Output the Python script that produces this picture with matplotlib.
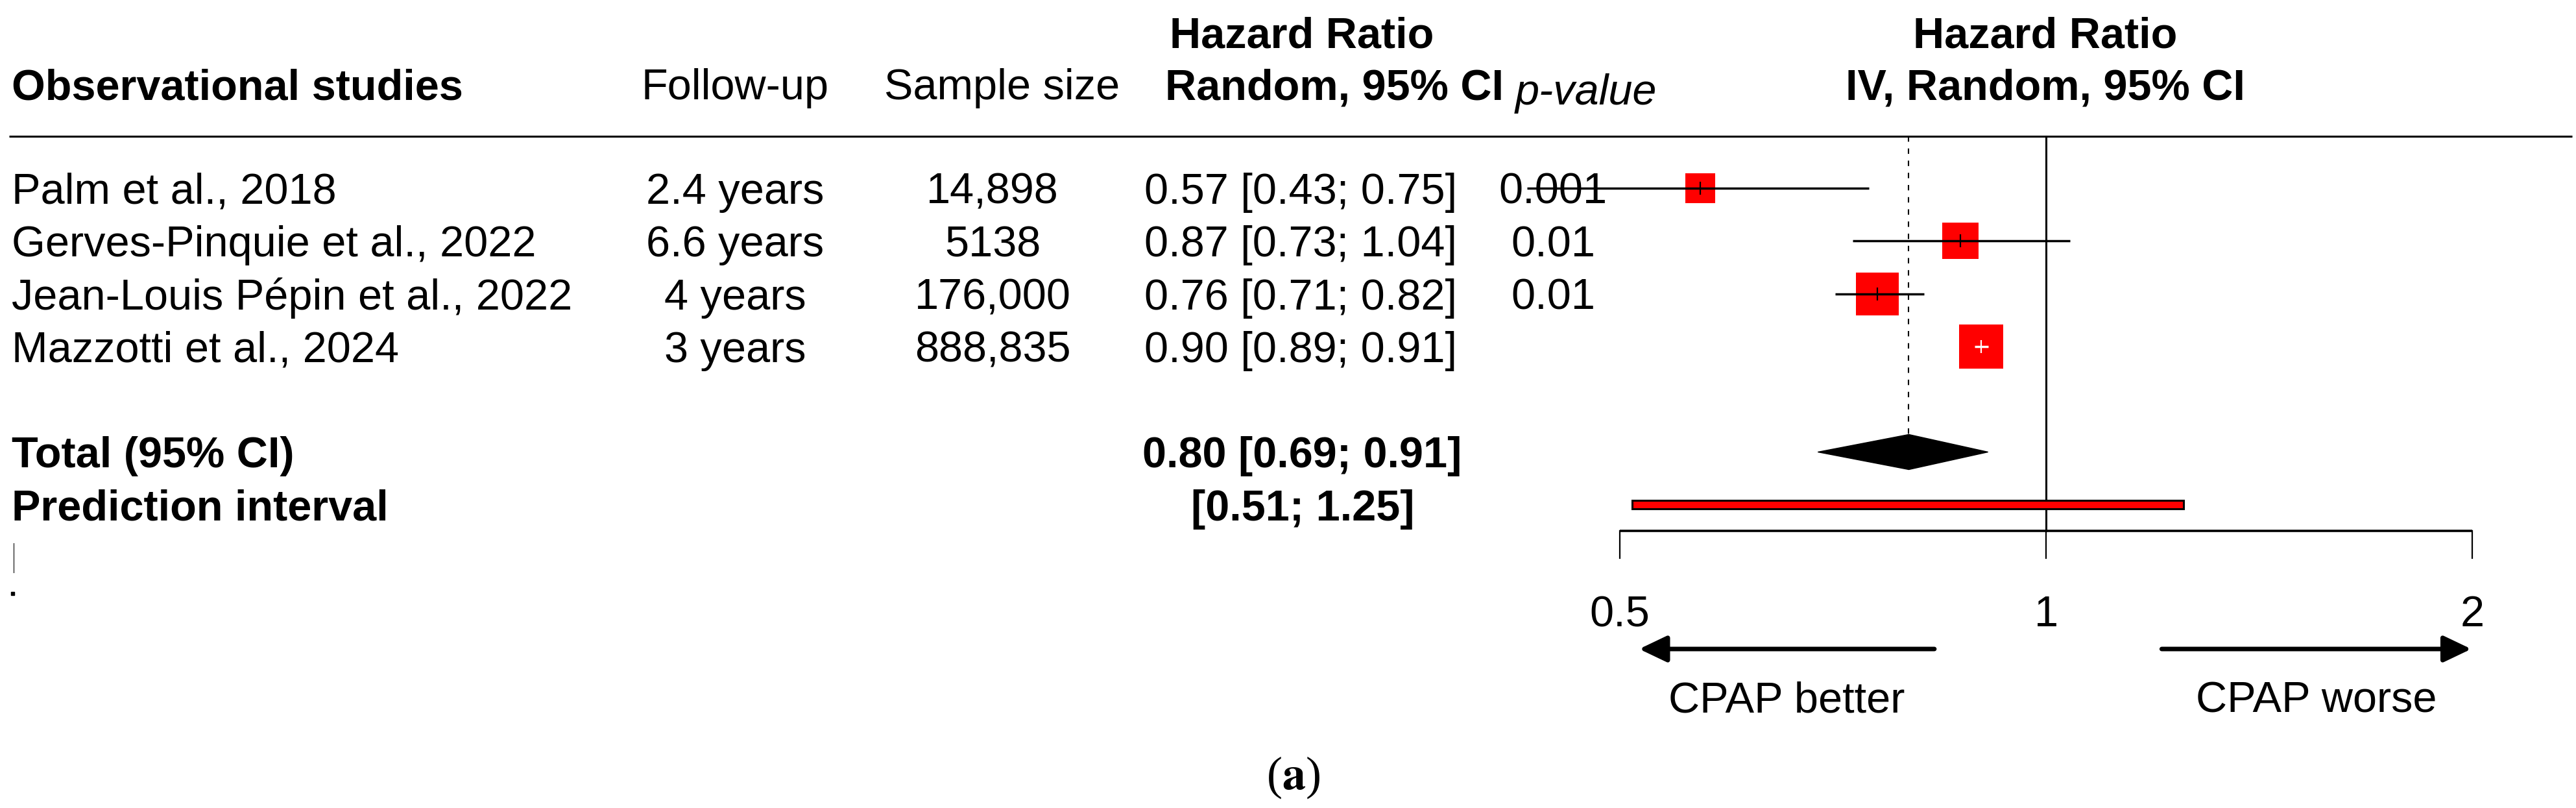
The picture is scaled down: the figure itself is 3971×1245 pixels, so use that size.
import numpy as np
import matplotlib
matplotlib.use("Agg")
import matplotlib.pyplot as plt
from matplotlib.patches import Rectangle, Polygon

# ---------------- data ----------------
studies = ["Palm et al., 2018", "Gerves-Pinquie et al., 2022",
           "Jean-Louis Pépin et al., 2022", "Mazzotti et al., 2024"]
follow_up = ["2.4 years", "6.6 years", "4 years", "3 years"]
sample_size = ["14,898", "5138", "176,000", "888,835"]
hr = [0.57, 0.87, 0.76, 0.90]
ci_low = [0.43, 0.73, 0.71, 0.89]
ci_high = [0.75, 1.04, 0.82, 0.91]
p_values = ["0.001", "0.01", "0.01", ""]
weights = [14.9, 22.0, 30.6, 32.5]
pooled_hr = 0.80
pooled_ci = [0.69, 0.91]
pred_interval = [0.51, 1.25]
x_ticks = [0.5, 1, 2]
x_tick_labels = ["0.5", "1", "2"]

# ---------------- layout ----------------
W, H, DPI = 3971, 1245, 100
X_ONE = 3154          # pixel of HR = 1
PPD = 657             # pixels per doubling
ROW0, DY = 290, 81.3
FS = 48

plt.rcParams["font.family"] = ["Liberation Sans", "DejaVu Sans"]

fig = plt.figure(figsize=(W / DPI, H / DPI), dpi=DPI)
tab = fig.add_axes([0, 0, 1, 1])
tab.set_xlim(0, W)
tab.set_ylim(H, 0)
tab.axis("off")

ax = fig.add_axes([0, 0, 1, 1], facecolor="none")
ax.set_xscale("log", base=2)
ax.set_xlim(2 ** (-X_ONE / PPD), 2 ** ((W - X_ONE) / PPD))
ax.set_ylim(H, 0)
ax.axis("off")

row_y = ROW0 + DY * np.arange(len(studies))
total_y = ROW0 + 5 * DY
pi_y = ROW0 + 6 * DY
base_off = 24

# ---------------- headers ----------------
tab.text(18, 153, "Observational studies", fontsize=FS, weight="bold", ha="left", va="baseline")
tab.text(1133, 153, "Follow-up", fontsize=FS, ha="center", va="baseline")
tab.text(1545, 153, "Sample size", fontsize=FS, ha="center", va="baseline")
tab.text(2007, 73, "Hazard Ratio", fontsize=FS, weight="bold", ha="center", va="baseline")
tab.text(1796, 153, "Random, 95% CI", fontsize=FS, weight="bold", ha="left", va="baseline")
tab.text(2336, 161, "p-value", fontsize=FS, style="italic", ha="left", va="baseline")
tab.text(3153, 73, "Hazard Ratio", fontsize=FS, weight="bold", ha="center", va="baseline")
tab.text(3153, 153, "IV, Random, 95% CI", fontsize=FS, weight="bold", ha="center", va="baseline")
tab.plot([14, 3965], [210, 210], color="black", lw=2.2, solid_capstyle="butt")

# ---------------- study rows ----------------
for i, y in enumerate(row_y):
    tab.text(18, y + base_off, studies[i], fontsize=FS, ha="left", va="baseline")
    tab.text(1133, y + base_off, follow_up[i], fontsize=FS, ha="center", va="baseline")
    tab.text(1530, y + base_off, sample_size[i], fontsize=FS, ha="center", va="baseline")
    tab.text(2005, y + base_off,
             f"{hr[i]:.2f} [{ci_low[i]:.2f}; {ci_high[i]:.2f}]",
             fontsize=FS, ha="center", va="baseline")
    tab.text(2394, y + base_off, p_values[i], fontsize=FS, ha="center", va="baseline")

tab.text(18, total_y + base_off, "Total (95% CI)", fontsize=FS, weight="bold", ha="left", va="baseline")
tab.text(2007, total_y + base_off,
         f"{pooled_hr:.2f} [{pooled_ci[0]:.2f}; {pooled_ci[1]:.2f}]",
         fontsize=FS, weight="bold", ha="center", va="baseline")
tab.text(18, pi_y + base_off, "Prediction interval", fontsize=FS, weight="bold", ha="left", va="baseline")
tab.text(2008, pi_y + base_off,
         f"[{pred_interval[0]:.2f}; {pred_interval[1]:.2f}]",
         fontsize=FS, weight="bold", ha="center", va="baseline")

# ---------------- forest ----------------
wmax = max(weights)
for i, y in enumerate(row_y):
    side = 68 * np.sqrt(weights[i] / wmax)
    px_lo = ax.transData.transform((ci_low[i], y))[0]
    px_hi = ax.transData.transform((ci_high[i], y))[0]
    px_c = ax.transData.transform((hr[i], y))[0]
    inside = (px_lo > px_c - side / 2) and (px_hi < px_c + side / 2)
    col = "white" if inside else "black"
    ax.plot([hr[i]], [y], marker="s", ms=side * 72 / DPI, mew=0, color="red", zorder=2)
    ax.plot([ci_low[i], ci_high[i]], [y, y], color=col, lw=2.5, zorder=3,
            solid_capstyle="butt", clip_on=False)
    ax.plot([hr[i]], [y], marker="|", ms=20 * 72 / DPI, mew=1.6, color=col, zorder=4)

# reference lines
dia_h = 27
ax.plot([pooled_hr, pooled_hr], [210, total_y - dia_h], color="black", lw=1.5,
        dashes=(4, 5), zorder=1)
ax.plot([1, 1], [210, 818], color="black", lw=2.2, zorder=1)

# pooled diamond
ax.add_patch(Polygon([[pooled_ci[0], total_y], [pooled_hr, total_y - dia_h],
                      [pooled_ci[1], total_y], [pooled_hr, total_y + dia_h]],
                     closed=True, fc="black", ec="black", lw=1, zorder=3))

# prediction interval bar
ax.add_patch(Rectangle((pred_interval[0], pi_y - 6.5), pred_interval[1] - pred_interval[0], 13,
                       fc="red", ec="black", lw=2.2, zorder=3))

# x axis
ax.plot([x_ticks[0], x_ticks[-1]], [818, 818], color="black", lw=2.6, solid_capstyle="butt")
for t, lab in zip(x_ticks, x_tick_labels):
    ax.plot([t, t], [818, 860], color="black", lw=1.6)
    ax.text(t, 965, lab, fontsize=FS, ha="center", va="baseline")

# direction arrows
arrow_kw = dict(arrowstyle="-|>,head_length=1.3,head_width=0.62", lw=5, color="black",
                mutation_scale=20, shrinkA=0, shrinkB=0)
ax.annotate("", xy=(0.516, 1000), xytext=(0.834, 1000), xycoords="data", arrowprops=arrow_kw)
ax.annotate("", xy=(1.997, 1000), xytext=(1.207, 1000), xycoords="data", arrowprops=arrow_kw)
tab.text(2754, 1097, "CPAP better", fontsize=FS, ha="center", va="baseline")
tab.text(3571, 1097, "CPAP worse", fontsize=FS, ha="center", va="baseline")

# panel label
tab.text(1994, 1198, r"($\mathbf{a}$)", fontsize=52, family="Liberation Serif",
         math_fontfamily="stix", ha="center", va="center")

# small marks at bottom-left
tab.plot([21, 21], [837, 882], color="black", lw=0.8)
tab.add_patch(Rectangle((17, 912), 5, 5, color="black"))

fig.savefig("out.png", dpi=DPI)
